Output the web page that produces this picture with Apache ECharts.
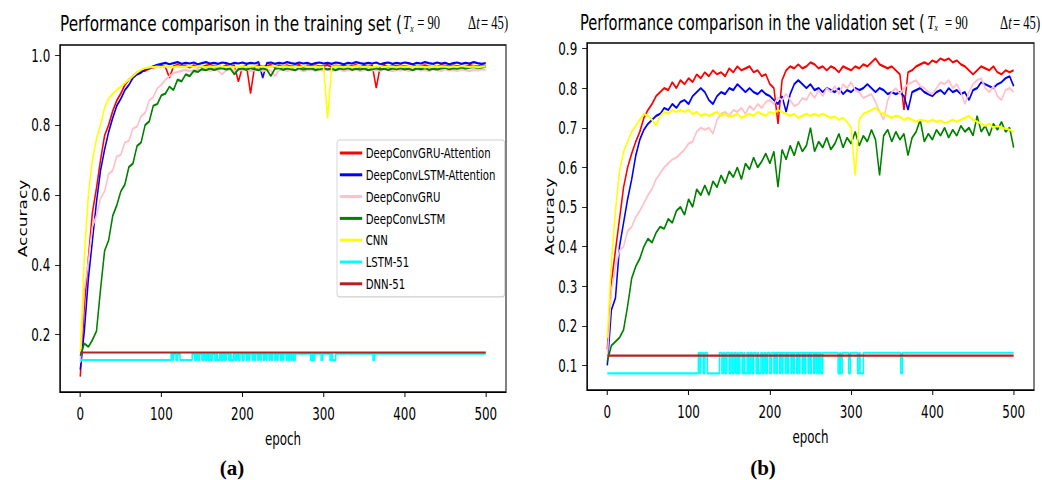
<!DOCTYPE html>
<html>
<head>
<meta charset="utf-8">
<script src="https://cdn.jsdelivr.net/npm/echarts@6/dist/echarts.min.js"></script>
<style>
    html, body { margin: 0; padding: 0; background: #fff; overflow: hidden; }
    /* the figure is horizontally squeezed, as in the original */
    #cn { width: 1490px; height: 480px; transform: scaleX(0.7); transform-origin: 0 0; }
</style>
</head>
<body>
<div id="cn"></div>
<script>
'use strict';

// epochs sampled every 5
const epochs = [
    0, 5, 10, 15, 20, 25, 30, 35, 40, 45, 50, 55, 60, 65, 70, 75, 80, 85, 90, 95,
    100, 105, 110, 115, 120, 125, 130, 135, 140, 145, 150, 155, 160, 165, 170, 175, 180, 185, 190, 195,
    200, 205, 210, 215, 220, 225, 230, 235, 240, 245, 250, 255, 260, 265, 270, 275, 280, 285, 290, 295,
    300, 305, 310, 315, 320, 325, 330, 335, 340, 345, 350, 355, 360, 365, 370, 375, 380, 385, 390, 395,
    400, 405, 410, 415, 420, 425, 430, 435, 440, 445, 450, 455, 460, 465, 470, 475, 480, 485, 490, 495,
    500
];

const seriesNames = ['DeepConvGRU-Attention', 'DeepConvLSTM-Attention', 'DeepConvGRU', 'DeepConvLSTM', 'CNN', 'LSTM-51', 'DNN-51'];
const seriesColors = ['#ff0000', '#0000ff', '#ffc0cb', '#008000', '#ffff00', '#00ffff', '#b22222'];

const xTicks = [0, 100, 200, 300, 400, 500];
const yTicksTrain = [0.2, 0.4, 0.6, 0.8, 1.0];
const yTicksVal = [0.1, 0.2, 0.3, 0.4, 0.5, 0.6, 0.7, 0.8, 0.9];

// (a) training set
const gruAttTrain = [
    0.08, 0.28, 0.42, 0.55, 0.62, 0.70, 0.77, 0.80, 0.84, 0.87, 0.89, 0.915, 0.93, 0.94, 0.95, 0.955, 0.955, 0.962, 0.965, 0.968,
    0.970, 0.966, 0.935, 0.968, 0.972, 0.967, 0.970, 0.965, 0.971, 0.968, 0.966, 0.970, 0.972, 0.967, 0.969, 0.965, 0.971, 0.968, 0.970, 0.924,
    0.966, 0.970, 0.890, 0.968, 0.971, 0.967, 0.969, 0.972, 0.966, 0.970, 0.968, 0.971, 0.967, 0.969, 0.972, 0.966, 0.970, 0.968, 0.971, 0.967,
    0.969, 0.972, 0.966, 0.970, 0.968, 0.971, 0.967, 0.969, 0.972, 0.966, 0.970, 0.968, 0.971, 0.906, 0.969, 0.972, 0.966, 0.970, 0.968, 0.971,
    0.967, 0.970, 0.972, 0.966, 0.969, 0.971, 0.968, 0.970, 0.966, 0.972, 0.969, 0.967, 0.971, 0.968, 0.970, 0.966, 0.972, 0.969, 0.967, 0.971,
    0.968
];
const lstmAttTrain = [
    0.10, 0.21, 0.36, 0.47, 0.58, 0.67, 0.73, 0.78, 0.82, 0.855, 0.875, 0.90, 0.915, 0.935, 0.945, 0.95, 0.96, 0.962, 0.968, 0.972,
    0.975, 0.978, 0.974, 0.977, 0.980, 0.975, 0.978, 0.976, 0.979, 0.974, 0.977, 0.980, 0.976, 0.978, 0.975, 0.979, 0.977, 0.974, 0.978, 0.976,
    0.979, 0.975, 0.978, 0.976, 0.980, 0.935, 0.977, 0.979, 0.975, 0.978, 0.976, 0.980, 0.977, 0.975, 0.979, 0.976, 0.978, 0.974, 0.977, 0.979,
    0.976, 0.978, 0.975, 0.979, 0.977, 0.974, 0.978, 0.976, 0.980, 0.977, 0.975, 0.978, 0.976, 0.979, 0.974, 0.977, 0.979, 0.975, 0.978, 0.976,
    0.979, 0.977, 0.974, 0.978, 0.976, 0.980, 0.977, 0.975, 0.979, 0.976, 0.978, 0.974, 0.977, 0.979, 0.975, 0.978, 0.976, 0.980, 0.977, 0.975,
    0.977
];
const gruTrain = [
    0.12, 0.33, 0.41, 0.51, 0.54, 0.59, 0.61, 0.66, 0.67, 0.71, 0.715, 0.75, 0.755, 0.79, 0.795, 0.825, 0.835, 0.87, 0.88, 0.905,
    0.915, 0.93, 0.94, 0.948, 0.952, 0.955, 0.958, 0.954, 0.957, 0.960, 0.956, 0.959, 0.955, 0.958, 0.956, 0.945, 0.957, 0.960, 0.955, 0.958,
    0.956, 0.959, 0.955, 0.957, 0.960, 0.954, 0.958, 0.956, 0.940, 0.957, 0.959, 0.955, 0.958, 0.956, 0.960, 0.954, 0.957, 0.959, 0.955, 0.958,
    0.956, 0.960, 0.955, 0.957, 0.959, 0.954, 0.958, 0.956, 0.960, 0.955, 0.957, 0.959, 0.956, 0.958, 0.955, 0.960, 0.957, 0.954, 0.958, 0.956,
    0.959, 0.955, 0.957, 0.960, 0.956, 0.958, 0.954, 0.959, 0.957, 0.955, 0.960, 0.956, 0.958, 0.955, 0.959, 0.957, 0.954, 0.958, 0.956, 0.960,
    0.957
];
const lstmTrain = [
    0.14, 0.175, 0.165, 0.185, 0.21, 0.33, 0.44, 0.47, 0.54, 0.57, 0.61, 0.63, 0.68, 0.69, 0.74, 0.75, 0.80, 0.81, 0.855, 0.86,
    0.885, 0.89, 0.91, 0.90, 0.93, 0.925, 0.945, 0.94, 0.955, 0.952, 0.960, 0.957, 0.962, 0.958, 0.961, 0.963, 0.959, 0.962, 0.945, 0.960,
    0.962, 0.958, 0.963, 0.960, 0.957, 0.962, 0.959, 0.940, 0.961, 0.963, 0.958, 0.962, 0.960, 0.957, 0.963, 0.959, 0.961, 0.962, 0.958, 0.960,
    0.963, 0.959, 0.961, 0.957, 0.962, 0.960, 0.963, 0.958, 0.961, 0.959, 0.962, 0.957, 0.960, 0.963, 0.959, 0.961, 0.958, 0.962, 0.960, 0.963,
    0.959, 0.961, 0.957, 0.962, 0.960, 0.963, 0.958, 0.961, 0.959, 0.962, 0.964, 0.960, 0.963, 0.961, 0.965, 0.962, 0.964, 0.966, 0.963, 0.965,
    0.967
];
const cnnTrain = [
    0.15, 0.42, 0.60, 0.70, 0.76, 0.80, 0.85, 0.875, 0.89, 0.90, 0.91, 0.92, 0.93, 0.94, 0.95, 0.958, 0.963, 0.965, 0.966, 0.967,
    0.966, 0.968, 0.967, 0.965, 0.968, 0.966, 0.967, 0.969, 0.966, 0.968, 0.967, 0.965, 0.968, 0.966, 0.969, 0.967, 0.966, 0.968, 0.965, 0.967,
    0.968, 0.966, 0.967, 0.969, 0.966, 0.968, 0.965, 0.967, 0.969, 0.966, 0.968, 0.967, 0.965, 0.968, 0.966, 0.969, 0.967, 0.966, 0.968, 0.965,
    0.967, 0.820, 0.966, 0.968, 0.967, 0.965, 0.968, 0.966, 0.969, 0.967, 0.966, 0.968, 0.965, 0.967, 0.969, 0.966, 0.968, 0.967, 0.965, 0.968,
    0.966, 0.969, 0.967, 0.966, 0.968, 0.965, 0.967, 0.969, 0.966, 0.968, 0.967, 0.965, 0.968, 0.966, 0.969, 0.967, 0.966, 0.968, 0.965, 0.967,
    0.968
];

// (b) validation set
const gruAttVal = [
    0.14, 0.31, 0.39, 0.47, 0.55, 0.60, 0.635, 0.665, 0.69, 0.725, 0.745, 0.76, 0.78, 0.79, 0.80, 0.795, 0.815, 0.80, 0.82, 0.81,
    0.825, 0.815, 0.835, 0.825, 0.84, 0.83, 0.845, 0.835, 0.84, 0.83, 0.85, 0.84, 0.855, 0.845, 0.85, 0.855, 0.84, 0.845, 0.83, 0.835,
    0.81, 0.80, 0.71, 0.82, 0.845, 0.855, 0.85, 0.86, 0.85, 0.855, 0.865, 0.86, 0.85, 0.855, 0.845, 0.855, 0.85, 0.84, 0.855, 0.85,
    0.845, 0.855, 0.85, 0.86, 0.855, 0.865, 0.875, 0.86, 0.855, 0.85, 0.855, 0.845, 0.835, 0.745, 0.84, 0.845, 0.855, 0.86, 0.865, 0.86,
    0.87, 0.865, 0.875, 0.87, 0.875, 0.865, 0.87, 0.86, 0.855, 0.845, 0.835, 0.845, 0.855, 0.85, 0.845, 0.855, 0.84, 0.835, 0.845, 0.84,
    0.845
];
const lstmAttVal = [
    0.10, 0.24, 0.27, 0.40, 0.46, 0.52, 0.57, 0.63, 0.67, 0.695, 0.71, 0.72, 0.73, 0.735, 0.75, 0.745, 0.76, 0.75, 0.765, 0.77,
    0.76, 0.78, 0.79, 0.80, 0.79, 0.77, 0.76, 0.78, 0.79, 0.785, 0.80, 0.795, 0.81, 0.80, 0.79, 0.80, 0.79, 0.785, 0.795, 0.785,
    0.78, 0.77, 0.76, 0.78, 0.74, 0.785, 0.81, 0.82, 0.81, 0.80, 0.81, 0.795, 0.80, 0.79, 0.80, 0.795, 0.79, 0.80, 0.785, 0.795,
    0.79, 0.80, 0.795, 0.80, 0.81, 0.80, 0.79, 0.80, 0.795, 0.785, 0.79, 0.785, 0.79, 0.78, 0.745, 0.79, 0.795, 0.80, 0.79, 0.785,
    0.78, 0.79, 0.795, 0.785, 0.80, 0.79, 0.795, 0.785, 0.79, 0.77, 0.795, 0.80, 0.815, 0.81, 0.805, 0.80, 0.81, 0.815, 0.825, 0.83,
    0.805
];
const gruVal = [
    0.12, 0.29, 0.35, 0.39, 0.40, 0.44, 0.45, 0.475, 0.49, 0.51, 0.53, 0.545, 0.57, 0.585, 0.60, 0.61, 0.62, 0.625, 0.635, 0.645,
    0.66, 0.665, 0.69, 0.70, 0.695, 0.70, 0.685, 0.72, 0.735, 0.74, 0.73, 0.745, 0.74, 0.75, 0.735, 0.755, 0.745, 0.76, 0.75, 0.765,
    0.77, 0.76, 0.775, 0.77, 0.785, 0.77, 0.755, 0.76, 0.775, 0.77, 0.79, 0.775, 0.795, 0.78, 0.80, 0.79, 0.805, 0.785, 0.81, 0.80,
    0.815, 0.795, 0.79, 0.775, 0.78, 0.785, 0.765, 0.74, 0.72, 0.77, 0.79, 0.80, 0.785, 0.80, 0.81, 0.815, 0.82, 0.805, 0.80, 0.79,
    0.785, 0.80, 0.815, 0.81, 0.82, 0.80, 0.81, 0.79, 0.76, 0.79, 0.81, 0.82, 0.825, 0.80, 0.79, 0.805, 0.78, 0.77, 0.795, 0.80,
    0.79
];
const lstmVal = [
    0.11, 0.15, 0.16, 0.17, 0.19, 0.25, 0.32, 0.35, 0.37, 0.40, 0.42, 0.41, 0.435, 0.45, 0.445, 0.47, 0.46, 0.49, 0.50, 0.48,
    0.52, 0.50, 0.545, 0.53, 0.555, 0.53, 0.565, 0.55, 0.58, 0.56, 0.59, 0.575, 0.60, 0.57, 0.61, 0.595, 0.625, 0.60, 0.615, 0.635,
    0.61, 0.64, 0.55, 0.645, 0.62, 0.655, 0.63, 0.665, 0.64, 0.655, 0.70, 0.64, 0.665, 0.65, 0.675, 0.645, 0.66, 0.685, 0.65, 0.675,
    0.66, 0.69, 0.655, 0.68, 0.665, 0.695, 0.67, 0.58, 0.68, 0.695, 0.665, 0.69, 0.67, 0.685, 0.63, 0.675, 0.69, 0.72, 0.665, 0.685,
    0.67, 0.695, 0.68, 0.70, 0.675, 0.695, 0.68, 0.705, 0.69, 0.70, 0.68, 0.73, 0.69, 0.705, 0.68, 0.71, 0.695, 0.715, 0.69, 0.70,
    0.65
];
const cnnVal = [
    0.17, 0.36, 0.49, 0.59, 0.64, 0.665, 0.69, 0.705, 0.72, 0.735, 0.73, 0.72, 0.705, 0.73, 0.74, 0.735, 0.745, 0.74, 0.745, 0.74,
    0.745, 0.735, 0.74, 0.73, 0.735, 0.73, 0.735, 0.74, 0.73, 0.735, 0.728, 0.73, 0.735, 0.725, 0.73, 0.735, 0.73, 0.74, 0.735, 0.73,
    0.74, 0.735, 0.745, 0.74, 0.735, 0.73, 0.735, 0.725, 0.73, 0.735, 0.73, 0.735, 0.73, 0.735, 0.73, 0.725, 0.728, 0.72, 0.725, 0.715,
    0.70, 0.58, 0.72, 0.735, 0.74, 0.745, 0.75, 0.74, 0.735, 0.73, 0.725, 0.73, 0.728, 0.72, 0.725, 0.72, 0.715, 0.72, 0.718, 0.715,
    0.72, 0.715, 0.718, 0.712, 0.715, 0.72, 0.715, 0.72, 0.725, 0.73, 0.72, 0.715, 0.71, 0.705, 0.71, 0.70, 0.705, 0.70, 0.698, 0.695,
    0.69
];

// LSTM-51 flips between two levels at these epochs (0 = low, 1 = high)
const lstm51Epochs = [
    0, 112, 114, 115, 118, 120, 123, 138, 141, 143, 145, 147, 150, 152, 154, 156, 158, 160, 161, 163,
    166, 168, 169, 172, 174, 176, 178, 180, 183, 185, 186, 189, 191, 193, 195, 197, 200, 202, 205, 206,
    208, 209, 212, 213, 215, 216, 219, 220, 222, 223, 226, 227, 229, 230, 233, 234, 236, 237, 240, 241,
    243, 244, 247, 248, 250, 251, 254, 255, 257, 258, 260, 261, 263, 265, 284, 286, 287, 289, 297, 299,
    308, 310, 311, 315, 361, 363, 500
];
const lstm51State = [
    0, 1, 0, 1, 0, 1, 0, 1, 0, 1, 0, 1, 0, 1, 0, 1, 0, 1, 0, 1,
    0, 1, 0, 1, 0, 1, 0, 1, 0, 1, 0, 1, 0, 1, 0, 1, 0, 1, 0, 1,
    0, 1, 0, 1, 0, 1, 0, 1, 0, 1, 0, 1, 0, 1, 0, 1, 0, 1, 0, 1,
    0, 1, 0, 1, 0, 1, 0, 1, 0, 1, 0, 1, 0, 1, 0, 1, 0, 1, 0, 1,
    0, 1, 0, 1, 0, 1, 1
];
const lstm51LevelsTrain = [0.127, 0.146];
const lstm51LevelsVal = [0.080, 0.132];

const dnnEpochs = [0, 500];
const dnnTrain = [0.149, 0.149];
const dnnVal = [0.125, 0.125];

const SANS = "'DejaVu Sans', sans-serif";
const SERIF = "'Liberation Serif', 'DejaVu Serif', serif";
const SQUEEZE = 0.7;

const pairs = (xs, ys) => xs.map((x, i) => [x, ys[i]]);

const makeSeries = (idx, data, gridIdx, extra) => Object.assign({
    name: seriesNames[idx],
    type: 'line',
    xAxisIndex: gridIdx,
    yAxisIndex: gridIdx,
    data: data,
    symbol: 'none',
    showSymbol: false,
    animation: false,
    lineStyle: { width: 2.2, color: seriesColors[idx] },
    itemStyle: { color: seriesColors[idx] }
}, extra || {});

const makeX = (gridIdx) => ({
    type: 'value',
    gridIndex: gridIdx,
    min: -25,
    max: 525,
    name: 'epoch',
    nameLocation: 'middle',
    nameGap: 38,
    nameTextStyle: { fontFamily: SANS, fontSize: 17, color: '#000' },
    splitLine: { show: false },
    axisLine: { show: true, onZero: false, lineStyle: { color: '#000', width: 1.2 } },
    axisTick: { show: true, length: 5, customValues: xTicks, lineStyle: { color: '#000', width: 1.4 } },
    axisLabel: { customValues: xTicks, fontFamily: SANS, fontSize: 17, color: '#000', margin: 13 }
});

const makeY = (gridIdx, min, max, ticks) => ({
    type: 'value',
    gridIndex: gridIdx,
    min: min,
    max: max,
    name: 'Accuracy',
    nameLocation: 'middle',
    nameGap: 45,
    nameRotate: 90,
    nameTextStyle: { fontFamily: SANS, fontSize: 17, color: '#000' },
    splitLine: { show: false },
    axisLine: { show: true, onZero: false, lineStyle: { color: '#000', width: 1.6 } },
    axisTick: { show: true, length: 7, customValues: ticks, lineStyle: { color: '#000' } },
    axisLabel: {
        customValues: ticks, fontFamily: SANS, fontSize: 17, color: '#000', margin: 14,
        formatter: v => v.toFixed(1)
    }
});

// rich title: plain part + math part; the pads set the gaps
const makeTitleRich = (aSize, tPad, bPad, dPad) => ({
    a: { fontFamily: SANS, fontSize: aSize, color: '#000' },
    t: { fontFamily: SERIF, fontStyle: 'italic', fontSize: 19, color: '#000', padding: [0, 0, 0, tPad] },
    s: { fontFamily: SERIF, fontStyle: 'italic', fontSize: 11, color: '#000', lineHeight: 11, verticalAlign: 'bottom' },
    b: { fontFamily: SERIF, fontSize: 18, color: '#000', padding: [0, 0, 0, bPad] },
    d: { fontFamily: SERIF, fontSize: 18, color: '#000', padding: [0, 0, 0, dPad] },
    i: { fontFamily: SERIF, fontStyle: 'italic', fontSize: 18, color: '#000' },
    e: { fontFamily: SERIF, fontSize: 18, color: '#000', padding: [0, 0, 0, 2] }
});

const chart = echarts.init(document.getElementById('cn'), null, { renderer: 'svg' });

const option = {
    animation: false,
    backgroundColor: '#fff',
    title: [
        {
            text: '{a|Performance comparison in the training set (}{t|T}{s|x}{b|= 90}{d|Δ}{i|t}{e|= 45)}',
            left: 60 / SQUEEZE, top: 12, padding: 0,
            textStyle: { fontWeight: 'normal', rich: makeTitleRich(21.8, 1, 5, 40) }
        },
        {
            text: '{a|Performance comparison in the validation set (}{t|T}{s|x}{b|= 90}{d|Δ}{i|t}{e|= 45)}',
            left: 580 / SQUEEZE, top: 12, padding: 0,
            textStyle: { fontWeight: 'normal', rich: makeTitleRich(21, 3, 10, 46) }
        }
    ],
    graphic: [
        {
            type: 'text', x: 232 / SQUEEZE, y: 468, scaleX: 1 / SQUEEZE, silent: true,
            style: { text: '(a)', fontFamily: SERIF, fontWeight: 'bold', fontSize: 21, fill: '#000', align: 'center', verticalAlign: 'middle' }
        },
        {
            type: 'text', x: 763 / SQUEEZE, y: 468, scaleX: 1 / SQUEEZE, silent: true,
            style: { text: '(b)', fontFamily: SERIF, fontWeight: 'bold', fontSize: 21, fill: '#000', align: 'center', verticalAlign: 'middle' }
        }
    ],
    legend: {
        data: seriesNames,
        orient: 'vertical',
        left: 337 / SQUEEZE,
        top: 140,
        icon: 'rect',
        itemWidth: 32,
        itemHeight: 3,
        itemGap: 5.8,
        padding: [5, 13, 5, 4],
        backgroundColor: '#fff',
        borderColor: '#d0d0d0',
        borderWidth: 1.2,
        borderRadius: 3,
        textStyle: { fontFamily: SANS, fontSize: 14.5, color: '#000', lineHeight: 16 }
    },
    grid: [
        { left: 60 / SQUEEZE, top: 45, width: 446 / SQUEEZE, height: 347, show: true, borderColor: '#000', borderWidth: 1.4, backgroundColor: 'transparent' },
        { left: 587 / SQUEEZE, top: 43, width: 447 / SQUEEZE, height: 347, show: true, borderColor: '#000', borderWidth: 1.4, backgroundColor: 'transparent' }
    ],
    xAxis: [makeX(0), makeX(1)],
    yAxis: [makeY(0, 0.036, 1.029, yTicksTrain), makeY(1, 0.038, 0.914, yTicksVal)],
    series: [
        makeSeries(0, pairs(epochs, gruAttTrain), 0),
        makeSeries(1, pairs(epochs, lstmAttTrain), 0),
        makeSeries(2, pairs(epochs, gruTrain), 0),
        makeSeries(3, pairs(epochs, lstmTrain), 0),
        makeSeries(4, pairs(epochs, cnnTrain), 0),
        makeSeries(5, pairs(lstm51Epochs, lstm51State.map(s => lstm51LevelsTrain[s])), 0, { step: 'end' }),
        makeSeries(6, pairs(dnnEpochs, dnnTrain), 0),

        makeSeries(0, pairs(epochs, gruAttVal), 1),
        makeSeries(1, pairs(epochs, lstmAttVal), 1),
        makeSeries(2, pairs(epochs, gruVal), 1),
        makeSeries(3, pairs(epochs, lstmVal), 1),
        makeSeries(4, pairs(epochs, cnnVal), 1),
        makeSeries(5, pairs(lstm51Epochs, lstm51State.map(s => lstm51LevelsVal[s])), 1, { step: 'end' }),
        makeSeries(6, pairs(dnnEpochs, dnnVal), 1)
    ]
};

chart.setOption(option);
</script>
</body>
</html>
